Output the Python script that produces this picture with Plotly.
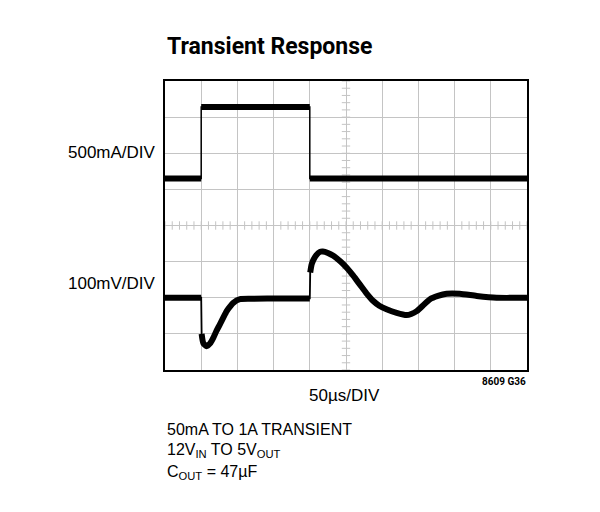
"""
Transient response scope capture (load step 50mA -> 1A).
"""

import plotly.graph_objects as go

# time axis, microseconds (50us/DIV, 10 divisions)
t_range = [0, 500]

# load current, A (500mA/DIV)
cur_t = [0, 50, 50, 200, 200, 500]
cur_a = [0.05, 0.05, 1.04, 1.04, 0.05, 0.05]

# output voltage deviation, mV (100mV/DIV)
vout_t = [0, 50, 50.6, 53, 57.6, 62, 66.7, 71, 76, 80.5, 85.2, 90, 94.3,
          103.6, 121.5, 160, 200, 200.6, 202.5, 204.8, 209, 214, 218, 225,
          232.5, 242, 251, 260, 269, 278, 287.7, 296, 306, 320, 333.8, 340,
          347.7, 356, 366, 377, 389, 407, 430.5, 458, 500]
vout_mv = [0, 0, -100, -126, -134, -127, -111, -92, -73, -55, -37, -24, -14,
           -4, -3, -2, -2, 70, 92, 104, 118, 127, 128, 124,
           116, 101, 83, 61, 37, 13, -9, -22, -32, -42, -48, -45,
           -37, -22, -4, 5, 11, 11, 5, 0, 0]

cur_range = [-2.6, 1.4]     # 8 div x 0.5 A
vout_range = [-200, 600]    # 8 div x 100 mV

FONT = "Liberation Sans, Arial, sans-serif"
TITLE_FONT = "Roboto, Liberation Sans, sans-serif"
GRID = "#c4c4c4"


def split_steps(t, y, t_div, y_div):
    """Return the trace with steep (edge) segments cut out, so the noisy
    flat parts can be drawn thick and the edges thin."""
    xs, ys = [t[0]], [y[0]]
    for i in range(1, len(t)):
        dx = abs(t[i] - t[i - 1]) / t_div
        dy = abs(y[i] - y[i - 1]) / y_div
        if dy > 6 * dx:
            xs.append(None)
            ys.append(None)
        xs.append(t[i])
        ys.append(y[i])
    return xs, ys


fig = go.Figure()

# center graticule minor ticks
minor_y = [cur_range[0] + k * 0.1 for k in range(41)]
fig.add_trace(go.Scatter(
    x=[250] * len(minor_y), y=minor_y, mode="markers",
    marker=dict(symbol="line-ew", size=6, line=dict(color=GRID, width=1)),
    hoverinfo="skip", showlegend=False
))
minor_x = [k * 10 for k in range(51)]
fig.add_trace(go.Scatter(
    x=minor_x, y=[cur_range[0] + 2.0] * len(minor_x), mode="markers",
    marker=dict(symbol="line-ns", size=6, line=dict(color=GRID, width=1)),
    hoverinfo="skip", showlegend=False
))

# current trace: thin edges + thick noisy levels
fig.add_trace(go.Scatter(x=cur_t, y=cur_a, mode="lines",
                         line=dict(color="black", width=1.5),
                         hoverinfo="skip", showlegend=False))
cx, cy = split_steps(cur_t, cur_a, 50, 0.5)
fig.add_trace(go.Scatter(x=cx, y=cy, mode="lines",
                         line=dict(color="black", width=6),
                         showlegend=False))

# output voltage trace
fig.add_trace(go.Scatter(x=vout_t, y=vout_mv, mode="lines", yaxis="y2",
                         line=dict(color="black", width=1.8),
                         hoverinfo="skip", showlegend=False))
vx, vy = split_steps(vout_t, vout_mv, 50, 100)
fig.add_trace(go.Scatter(x=vx, y=vy, mode="lines", yaxis="y2",
                         line=dict(color="black", width=6, shape="spline",
                                   smoothing=0.6),
                         showlegend=False))

# page body has an 8px margin, so the margins are shifted to compensate
fig.update_layout(
    width=600, height=512,
    margin=dict(l=157, r=81, t=73, b=150),
    paper_bgcolor="white", plot_bgcolor="white",
    showlegend=False,
    xaxis=dict(range=t_range, dtick=50, showgrid=True, gridcolor=GRID,
               gridwidth=1, showticklabels=False, ticks="", zeroline=False,
               showline=True, linecolor="black", linewidth=2, mirror=True,
               fixedrange=True),
    yaxis=dict(range=cur_range, tick0=cur_range[0], dtick=0.5, showgrid=True,
               gridcolor=GRID, gridwidth=1, showticklabels=False, ticks="",
               zeroline=False, showline=True, linecolor="black", linewidth=2,
               mirror=True, fixedrange=True),
    yaxis2=dict(range=vout_range, overlaying="y", showgrid=False,
                showticklabels=False, ticks="", zeroline=False,
                showline=False, fixedrange=True),
)

notes = [
    ("<b>Transient Response</b>", 0, 1.118, "left", 23, TITLE_FONT),
    ("500mA/DIV", -0.019, 0.754, "right", 17, FONT),
    ("100mV/DIV", -0.019, 0.301, "right", 17, FONT),
    ("50µs/DIV", 0.4945, -0.089, "center", 17, FONT),
    ("<b>8609 G36</b>", 1.003, -0.0415, "right", 10, TITLE_FONT),
    ("50mA TO 1A TRANSIENT", 0, -0.2066, "left", 16, FONT),
    ("12V<sub>IN</sub> TO 5V<sub>OUT</sub>", 0, -0.279, "left", 16, FONT),
    ("C<sub>OUT</sub> = 47µF", 0, -0.355, "left", 16, FONT),
]
for text, x, y, align, size, family in notes:
    fig.add_annotation(text=text, x=x, y=y, xref="paper", yref="paper",
                       xanchor=align, yanchor="middle", showarrow=False,
                       font=dict(family=family, size=size, color="black"))

fig.write_html("out.html")
